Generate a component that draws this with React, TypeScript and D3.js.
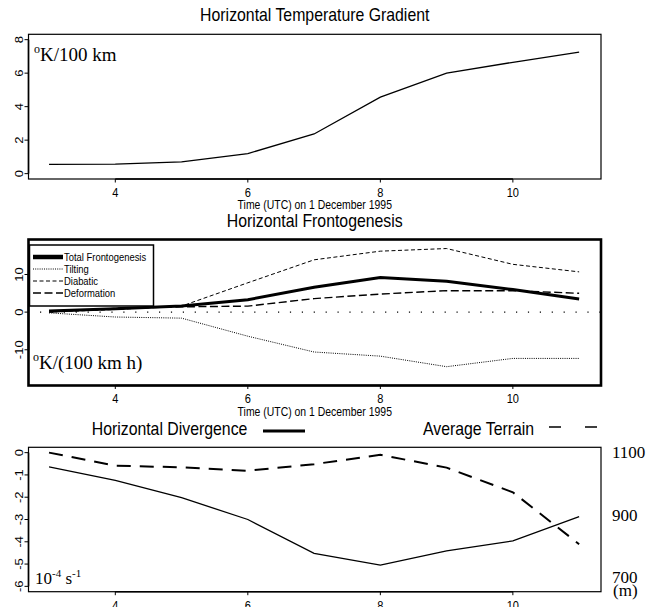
import React from "react";
import * as d3 from "d3";

const hours = [3, 4, 5, 6, 7, 8, 9, 10, 11];
const xTicks = [4, 6, 8, 10];

const gradient = [0.55, 0.57, 0.7, 1.2, 2.37, 4.57, 6.0, 6.65, 7.26];
const gradTicks = [0, 2, 4, 6, 8];

const totalFronto = [0.3, 0.9, 1.6, 3.3, 6.6, 9.2, 8.2, 6.0, 3.5];
const tilting = [-0.2, -1.3, -1.6, -6.4, -10.6, -11.7, -14.5, -12.3, -12.3];
const diabatic = [0.0, 0.7, 1.6, 7.8, 13.9, 16.2, 16.9, 12.7, 10.7];
const deformation = [0.0, 1.0, 1.4, 1.6, 3.6, 4.8, 5.7, 5.7, 5.0];
const frontoTicks = [-10, 0, 10];
const legendLabels = ["Total Frontogenesis", "Tilting", "Diabatic", "Deformation"];

const divergence = [-0.64, -1.24, -2.02, -3.0, -4.52, -5.05, -4.41, -3.96, -2.87];
const terrain = [1100, 1058, 1053, 1042, 1063, 1093, 1052, 973, 807];
const divTicks = [0, -1, -2, -3, -4, -5, -6];
const terrainLabels = [1100, 900, 700];

const SANS = "'Liberation Sans', Arial, Helvetica, sans-serif";
const SERIF = "'Liberation Serif', 'Times New Roman', Times, serif";

const L = 28.5, R = 601;
const CX = (L + R) / 2;
const x = d3.scaleLinear().domain([2.69, 11.33]).range([L, R]);

type P = { top: number; bottom: number };
const p1: P = { top: 34.3, bottom: 179 };
const p2: P = { top: 239.5, bottom: 385.5 };
const p3: P = { top: 447.3, bottom: 591.7 };

const y1 = d3.scaleLinear().domain([-0.32, 8.32]).range([p1.bottom, p1.top]);
const y2 = d3.scaleLinear().domain([-19.5, 19.3]).range([p2.bottom, p2.top]);
const y3 = d3.scaleLinear().domain([-6.24, 0.24]).range([p3.bottom, p3.top]);
const yT = d3.scaleLinear().domain([655, 1117]).range([p3.bottom, p3.top]);

function lineFor(vals: number[], ys: d3.ScaleLinear<number, number>) {
  const g = d3
    .line<number>()
    .x((_, i) => x(hours[i]))
    .y((v) => ys(v));
  return g(vals) || "";
}

function T({
  x: tx,
  y: ty,
  size,
  sx = 0.88,
  anchor = "start",
  baseline,
  children,
}: {
  x: number;
  y: number;
  size: number;
  sx?: number;
  anchor?: string;
  baseline?: string;
  children: React.ReactNode;
}) {
  return (
    <text
      transform={`translate(${tx},${ty}) scale(${sx},1)`}
      textAnchor={anchor}
      dominantBaseline={baseline}
      fontFamily={SANS}
      fontSize={size}
    >
      {children}
    </text>
  );
}

function XAxis({ p, time = true }: { p: P; time?: boolean }) {
  return (
    <g>
      <line x1={x(xTicks[0])} x2={x(xTicks[xTicks.length - 1])} y1={p.bottom} y2={p.bottom} stroke="#000" strokeWidth={1.6} />
      {xTicks.map((t) => (
        <g key={t}>
          <line x1={x(t)} x2={x(t)} y1={p.bottom} y2={p.bottom + 3.5} stroke="#000" strokeWidth={1} />
          <T x={x(t)} y={p.bottom + 17.8} size={13} sx={0.85} anchor="middle">
            {t}
          </T>
        </g>
      ))}
      {time && (
        <T x={CX} y={p.bottom + 30.3} size={12} sx={0.87} anchor="middle">
          Time (UTC) on 1 December 1995
        </T>
      )}
    </g>
  );
}

function YAxis({ ticks, ys }: { ticks: number[]; ys: d3.ScaleLinear<number, number> }) {
  const ext = d3.extent(ticks.map((t) => ys(t))) as [number, number];
  return (
    <g>
      <line x1={L} x2={L} y1={ext[0]} y2={ext[1]} stroke="#000" strokeWidth={1.6} />
      {ticks.map((t) => (
        <g key={t}>
          <line x1={L - 4} x2={L} y1={ys(t)} y2={ys(t)} stroke="#000" strokeWidth={1} />
          <text
            transform={`translate(19.5,${ys(t)}) scale(0.87,1) rotate(-90)`}
            textAnchor="middle"
            dominantBaseline="central"
            fontFamily={SANS}
            fontSize={13}
          >
            {t}
          </text>
        </g>
      ))}
    </g>
  );
}

export default function App() {
  const legendStyles = [
    { w: 4.5, dash: "" },
    { w: 1, dash: "1,1.2" },
    { w: 1, dash: "4,2.5" },
    { w: 1.4, dash: "8,3.5" },
  ];
  const legendY = [257, 269, 281, 293];
  return (
    <svg width={657} height={607} style={{ position: "absolute", left: 0, top: 0, background: "#fff" }}>
      <rect x={0} y={0} width={657} height={607} fill="#fff" />

      {/* Panel 1 */}
      <T x={CX} y={21} size={18} anchor="middle">
        Horizontal Temperature Gradient
      </T>
      <rect x={L} y={p1.top} width={R - L} height={p1.bottom - p1.top} fill="none" stroke="#000" strokeWidth={1.2} />
      <path d={lineFor(gradient, y1)} fill="none" stroke="#000" strokeWidth={1.3} />
      <XAxis p={p1} />
      <YAxis ticks={gradTicks} ys={y1} />
      <text x={34} y={61} fontFamily={SERIF} fontSize={19}>
        <tspan fontSize={12} dy={-8}>o</tspan>
        <tspan dy={8}>K/100 km</tspan>
      </text>

      {/* Panel 2 */}
      <T x={CX} y={227} size={18} anchor="middle">
        Horizontal Frontogenesis
      </T>
      <line x1={40} x2={R} y1={y2(0)} y2={y2(0)} stroke="#000" strokeWidth={1.2} strokeDasharray="1.2,10.7" />
      <path d={lineFor(tilting, y2)} fill="none" stroke="#000" strokeWidth={1} strokeDasharray="1,1.2" />
      <path d={lineFor(diabatic, y2)} fill="none" stroke="#000" strokeWidth={1} strokeDasharray="4,2.5" />
      <path d={lineFor(deformation, y2)} fill="none" stroke="#000" strokeWidth={1.4} strokeDasharray="8,3.5" />
      <path d={lineFor(totalFronto, y2)} fill="none" stroke="#000" strokeWidth={3} />
      <rect x={L} y={p2.top} width={R - L} height={p2.bottom - p2.top} fill="none" stroke="#000" strokeWidth={2.6} />
      <rect x={L + 1} y={245} width={124} height={61} fill="#fff" stroke="#000" strokeWidth={1.5} />
      {legendLabels.map((lab, i) => (
        <g key={lab}>
          <line x1={33} x2={63} y1={legendY[i]} y2={legendY[i]} stroke="#000" strokeWidth={legendStyles[i].w} strokeDasharray={legendStyles[i].dash} />
          <T x={64} y={legendY[i]} size={11.5} sx={0.82} baseline="central">
            {lab}
          </T>
        </g>
      ))}
      <XAxis p={p2} />
      <YAxis ticks={frontoTicks} ys={y2} />
      <text x={33} y={369} fontFamily={SERIF} fontSize={19}>
        <tspan fontSize={12} dy={-8}>o</tspan>
        <tspan dy={8}>K/(100 km h)</tspan>
      </text>

      {/* Panel 3 */}
      <T x={91.7} y={434.7} size={18}>
        Horizontal Divergence
      </T>
      <line x1={263} x2={305} y1={431} y2={431} stroke="#000" strokeWidth={3} />
      <T x={423} y={434.7} size={18}>
        Average Terrain
      </T>
      <line x1={549} x2={598} y1={427} y2={427} stroke="#000" strokeWidth={1.5} strokeDasharray="12,24" />
      <rect x={L} y={p3.top} width={R - L} height={p3.bottom - p3.top} fill="none" stroke="#000" strokeWidth={1.2} />
      <path d={lineFor(divergence, y3)} fill="none" stroke="#000" strokeWidth={1.3} />
      <path d={lineFor(terrain, yT)} fill="none" stroke="#000" strokeWidth={2} strokeDasharray="14,9" />
      <XAxis p={p3} time={false} />
      <YAxis ticks={divTicks} ys={y3} />
      <text x={35} y={583.5} fontFamily={SERIF} fontSize={17}>
        10
        <tspan fontSize={11} dy={-7}>-4</tspan>
        <tspan dy={7}> s</tspan>
        <tspan fontSize={11} dy={-7}>-1</tspan>
      </text>
      {terrainLabels.map((t) => (
        <text key={t} x={612} y={yT(t)} dominantBaseline="central" fontFamily={SERIF} fontSize={17}>
          {t}
        </text>
      ))}
      <text x={613} y={590} dominantBaseline="central" fontFamily={SERIF} fontSize={17}>
        (m)
      </text>
    </svg>
  );
}
